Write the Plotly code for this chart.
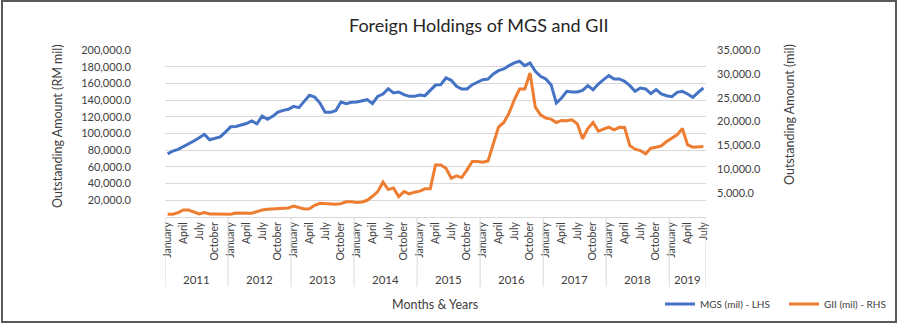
import pandas as pd
import plotly.graph_objects as go

# ---------------- data ----------------
START_MONTH = "2011-01"
N_MONTHS = 103  # January 2011 .. July 2019

mgs = [75600, 79000, 81000, 84000, 87000, 91000, 95000, 99000, 92500, 94500, 96000, 101700,
       108000, 108500, 110500, 112000, 115000, 111700, 121000, 117000, 120500, 125700, 127700, 129000,
       132500, 131000, 138500, 145700, 143700, 136500, 125300, 125300, 127300, 137700, 135700, 137300,
       137700, 139000, 140500, 135700, 144500, 147300, 153700, 148500, 149700, 146500, 144500, 144500,
       146000, 145300, 152000, 158000, 158500, 166500, 163700, 156500, 153300, 153300, 158500, 162000,
       164500, 165300, 171300, 175300, 177300, 181300, 184500, 186500, 181300, 184500, 174500, 168500,
       165300, 158500, 136500, 142500, 150500, 149700, 149700, 151700, 157300, 152500, 159300, 164500,
       169300, 165300, 165300, 162500, 157300, 150500, 154500, 153300, 147700, 152500, 147300, 145300,
       144100, 149300, 150500, 147300, 143300, 149300, 154500]

gii = [570, 570, 920, 1470, 1470, 1120, 630, 920, 630, 630, 570, 570,
       570, 850, 780, 780, 780, 1120, 1470, 1610, 1680, 1820, 1820, 1890,
       2310, 1960, 1700, 1750, 2450, 2870, 2760, 2620, 2660, 2800, 3180, 3220,
       3050, 3150, 3500, 4340, 5320, 7300, 5740, 6090, 4270, 5320, 4830, 5200,
       5420, 5900, 5900, 10920, 10920, 10220, 8120, 8610, 8260, 9870, 11620, 11620,
       11480, 11760, 15330, 18830, 19810, 21770, 24570, 26810, 26810, 30170, 23030, 21420,
       20720, 20510, 19810, 20230, 20160, 20370, 19530, 16400, 18520, 19810, 18000, 18480,
       18830, 18270, 18800, 18760, 14960, 14210, 13930, 13230, 14420, 14630, 14910, 15820,
       16520, 17220, 18550, 15120, 14630, 14700, 14770]

month_names = ["January", "February", "March", "April", "May", "June", "July",
               "August", "September", "October", "November", "December"]
shown_months = ["January", "April", "July", "October"]
years = [2011, 2012, 2013, 2014, 2015, 2016, 2017, 2018, 2019]

left_ticks = [20000, 40000, 60000, 80000, 100000, 120000, 140000, 160000, 180000, 200000]
right_ticks = [5000, 10000, 15000, 20000, 25000, 30000, 35000]

# ---------------- categories ----------------
dates = pd.date_range(START_MONTH, periods=N_MONTHS, freq="MS")
cats = [f"{month_names[d.month - 1]} {d.year}" for d in dates]
tick_vals = [c for c, d in zip(cats, dates) if month_names[d.month - 1] in shown_months]
tick_text = [c.split(" ")[0] for c in tick_vals]

FONT = "Lato, 'Open Sans', sans-serif"
TXT = "#404040"
GRID = "#d9d9d9"

# plot area geometry (px)
W, H = 900, 325
L, R, T, B = 165, 194, 50, 108
PW, PH = W - L - R, H - T - B


def px_x(x):
    return (x - L) / PW


def px_y(y):
    return (H - B - y) / PH


fig = go.Figure()
fig.add_trace(go.Scatter(x=cats, y=mgs, name="MGS (mil) - LHS", mode="lines",
                         line=dict(color="#4472C4", width=3), yaxis="y"))
fig.add_trace(go.Scatter(x=cats, y=gii, name="GII (mil) - RHS", mode="lines",
                         line=dict(color="#ED7D31", width=3), yaxis="y2"))

shapes = []
# year separators
year_starts = []
idx = 0
for y in years:
    n = sum(1 for d in dates if d.year == y)
    year_starts.append((idx, n))
    idx += n
bounds = [s - 0.5 for s, _ in year_starts] + [N_MONTHS - 0.5]
for b in bounds:
    shapes.append(dict(type="line", xref="x", yref="paper", x0=b, x1=b,
                       y0=0, y1=px_y(287), line=dict(color=GRID, width=1)))
# outer frame
shapes.append(dict(type="rect", xref="paper", yref="paper",
                   x0=px_x(2), x1=px_x(896), y0=px_y(322), y1=px_y(1),
                   line=dict(color="#595959", width=2), fillcolor="rgba(0,0,0,0)"))

annotations = []
for (s, n), y in zip(year_starts, years):
    annotations.append(dict(x=s + (n - 1) / 2, y=px_y(279), xref="x", yref="paper",
                            text=str(y), showarrow=False, xanchor="center", yanchor="middle",
                            font=dict(family=FONT, size=11.5, color=TXT)))
annotations.append(dict(x=px_x(435), y=px_y(304), xref="paper", yref="paper",
                        text="Months & Years", showarrow=False,
                        xanchor="center", yanchor="middle",
                        font=dict(family=FONT, size=12.5, color=TXT)))
annotations.append(dict(x=px_x(57), y=px_y(126), xref="paper", yref="paper",
                        text="Outstanding Amount (RM mil)", showarrow=False, textangle=-90,
                        xanchor="center", yanchor="middle",
                        font=dict(family=FONT, size=12.5, color=TXT)))
annotations.append(dict(x=px_x(789), y=px_y(115), xref="paper", yref="paper",
                        text="Outstanding Amount (mil)", showarrow=False, textangle=-90,
                        xanchor="center", yanchor="middle",
                        font=dict(family=FONT, size=12.5, color=TXT)))

fig.update_layout(
    width=W, height=H,
    margin=dict(l=L, r=R, t=T, b=B, autoexpand=False),
    paper_bgcolor="white", plot_bgcolor="white",
    font=dict(family=FONT, color=TXT),
    title=dict(text="Foreign Holdings of MGS and GII", xref="container", yref="container",
               x=349 / W, xanchor="left", y=1 - 26 / H, yanchor="middle",
               font=dict(family=FONT, size=18, color="#262626")),
    xaxis=dict(type="category", categoryorder="array", categoryarray=cats,
               range=[-0.5, N_MONTHS - 0.5], tickmode="array", tickvals=tick_vals,
               ticktext=tick_text, tickangle=-90, ticks="", showgrid=False,
               showline=True, linecolor=GRID, linewidth=1, zeroline=False,
               automargin=False,
               tickfont=dict(family=FONT, size=10.5, color=TXT)),
    yaxis=dict(range=[0, 200000], tickmode="array", tickvals=left_ticks, tickformat=",.1f",
               showgrid=True, gridcolor=GRID, gridwidth=1, zeroline=False, showline=False,
               automargin=False,
               ticklabelstandoff=33, tickfont=dict(family=FONT, size=11, color=TXT)),
    yaxis2=dict(range=[0, 35000], overlaying="y", side="right", tickmode="array",
                tickvals=right_ticks, tickformat=",.1f", showgrid=False, zeroline=False,
                showline=False, ticklabelstandoff=10, automargin=False,
                tickfont=dict(family=FONT, size=11, color=TXT)),
    legend=dict(orientation="h", xref="container", yref="container",
                x=660 / W, y=1 - 304 / H, xanchor="left", yanchor="middle",
                font=dict(family=FONT, size=10, color=TXT), bgcolor="rgba(0,0,0,0)",
                entrywidth=79, entrywidthmode="pixels"),
    shapes=shapes, annotations=annotations,
)

fig.write_html("out.html")
